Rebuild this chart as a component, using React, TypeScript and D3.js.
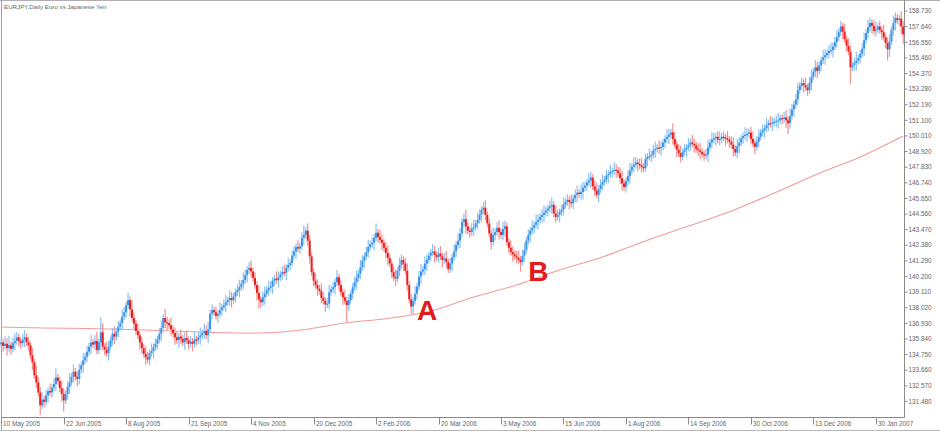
import React from 'react';
import * as d3 from 'd3';

const TITLE = 'EURJPY,Daily  Euro vs Japanese Yen';

// Daily closes, 10 May 2005 .. Feb 2007
const closes: number[] = [
  135.60,135.35,135.50,135.20,135.40,135.15,135.55,135.70,135.95,135.70,
  135.55,135.80,135.95,135.60,135.40,134.70,134.20,133.30,132.80,132.10,
  131.20,131.60,131.45,131.90,132.20,132.10,132.45,132.70,133.15,132.90,
  132.40,132.00,131.55,132.00,132.50,132.80,133.20,133.55,133.20,133.05,
  133.70,134.00,134.35,134.60,134.95,135.30,135.60,135.45,135.70,135.05,
  135.60,136.30,135.30,135.10,134.85,135.30,135.75,136.20,136.00,136.35,
  136.70,136.95,137.40,137.70,138.20,138.55,137.90,137.30,136.90,136.40,
  136.10,135.60,135.20,134.80,134.55,134.40,134.85,135.00,135.25,135.50,
  135.80,136.20,136.60,137.30,137.00,136.95,136.80,136.50,136.25,135.95,
  135.75,136.00,135.85,135.60,135.90,135.75,135.50,135.65,135.50,135.80,
  135.75,135.95,136.10,136.25,136.40,136.10,136.50,137.60,137.85,137.70,
  137.45,137.60,137.85,138.05,138.20,138.40,138.55,138.70,138.55,138.80,
  139.10,139.25,139.45,139.70,139.95,140.30,140.65,140.80,140.55,140.10,
  139.60,139.05,138.60,138.40,138.75,139.00,139.25,139.40,139.50,139.90,
  140.05,139.95,140.15,140.35,140.50,140.45,140.80,141.00,141.15,141.65,
  141.95,142.25,142.15,142.30,142.90,143.10,143.40,142.70,141.60,140.50,
  139.90,139.60,139.35,139.20,138.70,138.50,138.25,138.30,139.10,139.30,
  139.45,139.80,140.15,139.60,139.10,138.75,138.50,138.20,138.55,139.00,
  139.45,139.80,140.10,140.40,140.85,141.30,141.60,141.90,142.25,142.45,
  142.55,142.90,143.25,142.95,142.75,142.55,142.20,141.85,141.50,141.10,
  140.50,140.15,140.05,140.60,141.00,141.35,141.10,140.60,139.60,138.60,
  138.10,138.50,139.00,139.50,140.20,140.55,140.70,141.10,141.35,141.65,
  141.85,141.95,141.70,141.55,141.80,141.60,141.35,141.45,141.20,140.70,
  141.10,141.55,141.95,142.40,142.70,143.20,144.00,144.20,143.70,143.40,
  143.30,143.55,143.65,143.90,144.15,144.50,144.85,145.00,144.50,143.90,
  143.20,142.60,143.10,143.30,143.60,143.30,143.10,143.50,143.70,142.60,
  142.20,141.90,141.75,141.60,141.50,141.35,141.20,141.65,142.05,142.70,
  143.10,143.40,143.60,143.80,144.00,144.15,144.35,144.50,144.65,144.80,
  144.95,145.10,145.20,144.60,144.35,144.50,144.70,144.85,145.20,145.40,
  145.55,145.40,145.30,145.65,145.90,146.05,145.95,146.10,146.40,146.55,
  146.75,146.90,147.10,146.50,146.20,145.90,146.30,146.60,146.80,146.95,
  147.25,147.35,147.50,147.55,147.65,147.60,147.40,147.05,146.70,146.45,
  146.85,147.20,147.60,147.85,148.00,148.15,148.05,147.95,147.85,147.75,
  148.40,148.55,148.60,148.70,149.00,149.10,149.20,149.15,149.25,149.55,
  149.80,149.95,150.10,150.25,149.80,149.40,149.05,148.80,148.55,148.90,
  149.05,149.20,149.35,149.55,149.45,149.35,149.10,149.00,148.90,148.75,
  148.65,148.70,149.20,149.55,149.75,149.85,149.95,149.75,149.80,149.95,
  149.90,149.85,149.75,149.60,149.40,149.10,148.85,149.30,149.55,149.85,
  150.00,150.10,150.15,150.25,149.80,149.50,149.25,149.60,149.95,150.25,
  150.40,150.55,150.75,150.90,150.85,150.95,151.00,151.05,151.10,151.25,
  151.20,151.30,151.10,150.90,151.40,151.85,152.20,152.55,153.20,153.50,
  153.70,153.55,153.40,153.20,153.70,154.15,154.50,154.80,154.55,154.95,
  155.30,155.50,155.65,155.80,155.95,156.00,156.25,156.55,156.90,157.25,
  157.65,157.30,156.75,156.30,155.90,154.80,154.95,155.10,155.25,155.45,
  155.75,156.10,156.70,157.20,157.60,157.90,157.70,157.35,157.45,157.65,
  157.40,157.25,156.90,156.50,156.05,156.60,157.40,157.90,158.25,158.10,
  158.20,157.65,157.10,
];
const firstOpen = 135.45;

// upper / lower wick lengths per bar, in tenths of a yen
const wickUpDigits = `
3243523432 2342324253 3423242352 2432352423 3242324235 2852432342 3243242532 4232432423
2342532423 3242342324 2342434232 3242342432 2342432342 3242342432 2432342423 3242352432
2432432342 3242324232 2342432342 3252432342 2342432342 3242342432 2432342342 3242432352
2342432342 3242342432 2432342342 3242432342 2342432342 3242342432 2432342342 3242432342
2342432342 3242342432 2432542342 3242432342 2342432342 3242342432 2432342342 3242432342
2342432342 3242342432 2432342342 3242432352 2342432342 3242342432 243`;
const wickDownDigits = `
2324232423 3242324232 5232423242 2462342324 3242324232 2423242342 3242324232 2432423242
3242342324 2432423242 3242324232 2423242342 3242324232 2453242324 3242324232 2423242342
3242324232 2423242932 3242324232 2423242342 3242324232 4423242342 3242324232 2423242342
3242324232 2423242342 3242325232 2423242342 3242324232 2423242342 3242324232 2423242342
3242324232 2423242342 3242324232 2423242342 3242324232 2423242342 3242324232 2423242342
3246324232 2423242342 3242324232 2423292342 3242324232 2423642342 345`;

// moving average (bar index, value)
const maBars = [0,22,44,66,88,110,132,154,176,198,220,242,264,286,308,330,352,374,396,418,440,462];
const maValues = [136.67,136.60,136.57,136.50,136.39,136.29,136.25,136.46,136.95,137.27,137.79,
  138.77,139.60,140.65,141.56,142.68,143.72,144.77,146.03,147.35,148.54,150.00];

const yTickValues = [158.73,157.64,156.55,155.46,154.37,153.28,152.19,151.10,150.01,148.92,147.83,
  146.74,145.65,144.56,143.47,142.38,141.29,140.20,139.11,138.02,136.93,135.84,134.75,133.66,132.57,131.48];

const xTickBars = [0,32,64,96,128,160,192,224,256,288,320,352,384,416,448];
const xTickLabels = ['10 May 2005','22 Jun 2005','8 Aug 2005','21 Sep 2005','4 Nov 2005','20 Dec 2005',
  '2 Feb 2006','20 Mar 2006','3 May 2006','15 Jun 2006','1 Aug 2006','14 Sep 2006','30 Oct 2006',
  '13 Dec 2006','30 Jan 2007'];

const markers = [
  { label: 'A', bar: 213, price: 137.15 },
  { label: 'B', bar: 270, price: 139.85 },
];

export default function App() {
  const W = 940, H = 433;
  const plotL = 1.5, plotR = 904.5, plotT = 0.5, plotB = 417.5;
  const n = closes.length;
  const x = d3.scaleLinear().domain([0, n - 1]).range([1.2, 903.2]);
  const y = d3.scaleLinear().domain([130.39, 159.43]).range([417, 1]);
  const up = wickUpDigits.replace(/\s+/g, '').split('').map(Number);
  const dn = wickDownDigits.replace(/\s+/g, '').split('').map(Number);

  const bars = closes.map((c, i) => {
    const o = i === 0 ? firstOpen : closes[i - 1];
    const hi = Math.max(o, c) + (up[i] ?? 3) * 0.13;
    const lo = Math.min(o, c) - (dn[i] ?? 3) * 0.13;
    return { i, o, c, hi, lo, bull: c >= o };
  });

  const maLine = d3.line<number>()
    .x((_, k) => x(maBars[k]))
    .y((v) => y(v))
    .curve(d3.curveMonotoneX);

  const font = '"Liberation Sans", Arial, sans-serif';

  return (
    <svg width={W} height={H} style={{ position: 'absolute', left: 0, top: 0, background: '#fff' }}>
      <defs>
        <filter id="soft" x="-5%" y="-5%" width="110%" height="110%">
          <feGaussianBlur stdDeviation="0.45" />
        </filter>
      </defs>
      {/* frame */}
      <line x1={0} x2={W} y1={plotT} y2={plotT} stroke="#b0b0b0" />
      <line x1={plotL} x2={plotL} y1={0} y2={H - 3} stroke="#a0a0a0" />
      <line x1={plotR} x2={plotR} y1={0} y2={plotB} stroke="#8a8a8a" />
      <line x1={plotL} x2={plotR} y1={plotB} y2={plotB} stroke="#8a8a8a" />
      <line x1={0} x2={W} y1={430.5} y2={430.5} stroke="#b8b8b8" />

      <text x={4} y={9} fontSize={6.2} fill="#666" fontFamily={font}>{TITLE}</text>

      {/* moving average */}
      <path d={maLine(maValues) || ''} fill="none" stroke="#f39a9a" strokeWidth={1.1} />

      {/* bars */}
      <g filter="url(#soft)">
        {bars.map((b) => {
          const cx = x(b.i);
          const col = b.bull ? '#3a94e8' : '#ef1a1a';
          const wcol = b.bull ? '#8cc2f3' : '#f49090';
          const top = y(Math.max(b.o, b.c));
          const h = Math.max(1.2, y(Math.min(b.o, b.c)) - top);
          return (
            <g key={b.i}>
              <line x1={cx} x2={cx} y1={y(b.hi)} y2={y(b.lo)} stroke={wcol} strokeWidth={1.2} />
              <rect x={cx - 1} y={top} width={2} height={h} fill={col} />
            </g>
          );
        })}
      </g>

      {/* markers */}
      {markers.map((m) => (
        <text key={m.label} x={x(m.bar)} y={y(m.price)} fontSize={28} fontWeight="bold" fill="#e41a1a" fontFamily={font}>
          {m.label}
        </text>
      ))}

      {/* y axis */}
      {yTickValues.map((v) => (
        <g key={v} transform={`translate(0,${y(v)})`}>
          <line x1={plotR} x2={plotR + 3} y1={0} y2={0} stroke="#8a8a8a" />
          <text x={plotR + 4} y={0} dy="0.35em" fontSize={6.4} fill="#666" fontFamily={font}>
            {v.toFixed(3)}
          </text>
        </g>
      ))}

      {/* x axis */}
      {xTickBars.map((bi, k) => {
        const tx = Math.round(x(bi)) + 0.5;
        return (
          <g key={bi}>
            <line x1={tx} x2={tx} y1={plotB} y2={plotB + 7} stroke="#8a8a8a" />
            <text x={tx + 1.5} y={426} fontSize={6.4} fill="#666" fontFamily={font}>{xTickLabels[k]}</text>
          </g>
        );
      })}
    </svg>
  );
}
